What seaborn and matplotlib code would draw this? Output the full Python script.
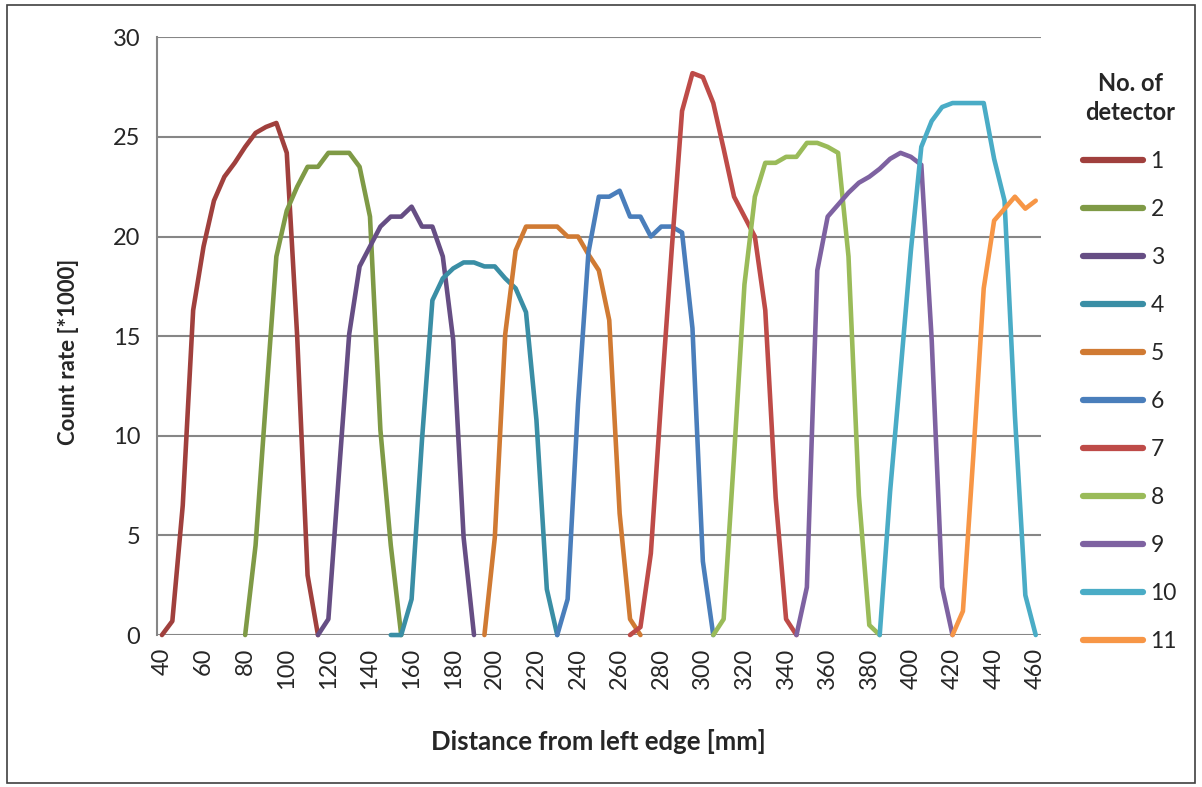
import numpy as np
import pandas as pd
import seaborn as sns
from matplotlib import pyplot as plt
from matplotlib.patches import Rectangle

# count rate [*1000] per detector, sampled every 5 mm
det1 = [0, 0.7, 6.5, 16.3, 19.5, 21.8, 23.0, 23.7, 24.5, 25.2, 25.5, 25.7, 24.2, 15.0, 3.0, 0]
det2 = [0, 4.5, 11.8, 19.0, 21.3, 22.5, 23.5, 23.5, 24.2, 24.2, 24.2, 23.5, 21.0, 10.3, 4.5, 0]
det3 = [0, 0.8, 8.0, 15.1, 18.5, 19.5, 20.5, 21.0, 21.0, 21.5, 20.5, 20.5, 19.0, 14.8, 4.9, 0]
det4 = [0, 0, 1.8, 9.8, 16.8, 17.9, 18.4, 18.7, 18.7, 18.5, 18.5, 17.9, 17.4, 16.2, 10.8, 2.3, 0]
det5 = [0, 4.9, 15.1, 19.3, 20.5, 20.5, 20.5, 20.5, 20.0, 20.0, 19.1, 18.3, 15.8, 6.1, 0.8, 0]
det6 = [0, 1.8, 11.6, 19.2, 22.0, 22.0, 22.3, 21.0, 21.0, 20.0, 20.5, 20.5, 20.2, 15.4, 3.7, 0]
det7 = [0, 0.4, 4.1, 11.9, 19.3, 26.3, 28.2, 28.0, 26.7, 24.4, 22.0, 21.0, 20.0, 16.3, 6.9, 0.8, 0]
det8 = [0, 0.8, 9.0, 17.6, 22.0, 23.7, 23.7, 24.0, 24.0, 24.7, 24.7, 24.5, 24.2, 19.0, 7.0, 0.5, 0]
det9 = [0, 2.4, 18.3, 21.0, 21.6, 22.2, 22.7, 23.0, 23.4, 23.9, 24.2, 24.0, 23.6, 14.8, 2.4, 0]
det10 = [0, 7.2, 13.2, 19.3, 24.5, 25.8, 26.5, 26.7, 26.7, 26.7, 26.7, 23.9, 21.8, 11.0, 2.0, 0]
det11 = [0, 1.2, 9.0, 17.4, 20.8, 21.4, 22.0, 21.4, 21.8]

# first position [mm] of each detector's scan
starts = [40, 80, 115, 150, 195, 230, 265, 305, 345, 385, 420]
names = [str(i) for i in range(1, 12)]
colors = ['#A0403D', '#7F9A46', '#664E84', '#3A8EA5', '#D07A33', '#4A7EBB',
          '#BE4B48', '#9ABB59', '#7E62A1', '#4AACC6', '#F79646']

rows = []
for name, x0, vals in zip(names, starts, [det1, det2, det3, det4, det5, det6,
                                          det7, det8, det9, det10, det11]):
    xs = np.arange(x0, x0 + 5 * len(vals), 5)
    for x, v in zip(xs, vals):
        rows.append((name, x, v))
df = pd.DataFrame(rows, columns=['detector', 'distance', 'rate'])

sns.set_style('white')
plt.rcParams['font.family'] = ['Lato', 'DejaVu Sans']

fig = plt.figure(figsize=(12.02, 7.87), dpi=100)
ax = fig.add_axes([0.1304, 0.1931, 0.7356, 0.7595])

sns.lineplot(data=df, x='distance', y='rate', hue='detector', hue_order=names,
             palette=colors, linewidth=3.3, errorbar=None, sort=False, ax=ax,
             clip_on=False, solid_capstyle='round', solid_joinstyle='round')

ax.set_xlim(37.5, 462.5)
ax.set_ylim(0, 30)
ax.set_xticks(range(40, 461, 20))
ax.set_yticks(range(0, 31, 5))
ax.grid(axis='y', color='#868686', linewidth=1.5)
ax.set_axisbelow(True)
for s in ['top', 'right', 'bottom']:
    ax.spines[s].set_visible(False)
ax.spines['left'].set_color('#868686')
ax.spines['left'].set_linewidth(1.5)

ax.tick_params(axis='x', length=0, pad=9, labelsize=17, labelrotation=90)
ax.tick_params(axis='y', length=6, width=1.5, color='#868686', pad=6, labelsize=17)

ax.set_xlabel('Distance from left edge [mm]', fontsize=18.5, fontweight='bold')
ax.set_ylabel('Count rate [*1000]', fontsize=16, fontweight='bold')
ax.xaxis.set_label_coords(0.5, -0.158)
ax.yaxis.set_label_coords(-0.088, 0.473)

leg = ax.legend(title='No. of\ndetector', loc='upper left', bbox_to_anchor=(0.901, 0.9085),
                bbox_transform=fig.transFigure, frameon=False, fontsize=16.5,
                title_fontproperties={'weight': 'bold', 'size': 17},
                handlelength=2.6, handletextpad=0.35, labelspacing=1.18,
                borderpad=0, borderaxespad=0)
leg.get_title().set_multialignment('center')
leg.get_title().set_linespacing(1.3)
for line in leg.get_lines():
    line.set_linewidth(4.5)
    line.set_solid_capstyle('round')

fig.patches.append(Rectangle((0.006, 0.005), 0.988, 0.989, transform=fig.transFigure,
                             fill=False, edgecolor='#404040', linewidth=1.2))

fig.savefig('out.png', dpi=100)
